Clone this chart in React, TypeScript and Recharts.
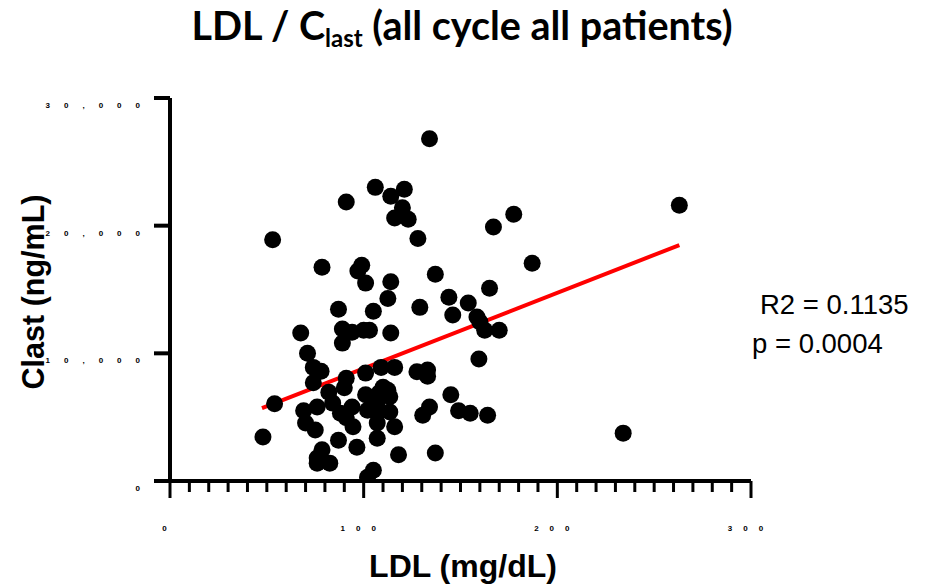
import React from 'react';
import { ScatterChart, Scatter, XAxis, YAxis, ReferenceLine } from 'recharts';

const ldl = [
  134, 106, 114, 121, 91, 120, 116, 123, 128, 53,
  78.5, 99, 97, 101, 114, 137, 112.5, 144, 129, 154,
  146, 165, 158.5, 160, 162.5, 170, 167, 177.5, 187, 263,
  234, 159.5, 114, 103, 105, 87, 67.5, 89, 94, 100,
  89, 71, 74, 78, 74, 91, 90, 101, 82, 54,
  48, 109, 116, 127.5, 133, 133, 145, 134, 130.5, 149,
  155, 164, 118, 137, 105, 102, 69, 76, 84, 70,
  75, 94, 94.5, 88, 91, 101, 102, 87, 96.5, 78.5,
  76, 82.5, 76, 110, 108, 113.5, 107, 107, 113.5, 116,
  107, 107, 112.5,
];
const clast = [
  26800, 23000, 22300, 22850, 21850, 21400, 20600, 20500, 19000, 18900,
  16750, 16900, 16450, 15500, 15600, 16200, 14300, 14400, 13600, 13950,
  13000, 15100, 12850, 12450, 11800, 11800, 19900, 20900, 17050, 21600,
  3750, 9550, 11600, 11800, 13300, 13450, 11600, 11900, 11650, 11800,
  10800, 10000, 8900, 8600, 7700, 8050, 7300, 8450, 6950, 6050,
  3450, 8900, 8900, 8550, 8700, 8200, 6750, 5800, 5150, 5500,
  5300, 5150, 2050, 2200, 850, 300, 5500, 5800, 6100, 4550,
  4000, 5800, 4250, 5300, 4950, 6750, 5550, 3200, 2650, 2450,
  1800, 1400, 1400, 7350, 6900, 6600, 6100, 5300, 5400, 4250,
  4550, 3350, 7100,
];
const fitX = [47.5, 263];
const fitY = [5700, 18480];
const xTicks = [
  0, 10, 20, 30, 40, 50, 60, 70, 80, 90,
  100, 110, 120, 130, 140, 150, 160, 170, 180, 190,
  200, 210, 220, 230, 240, 250, 260, 270, 280, 290, 300,
];
const xMajorTicks = [0, 100, 200, 300];
const yTicks = [0, 10000, 20000, 30000];

const points = ldl.map((x, i) => ({ x, y: clast[i] }));

const XTick = (props: any) => {
  const { x, y, payload } = props;
  const major = xMajorTicks.includes(payload.value);
  return (
    <g>
      <line x1={x} x2={x} y1={y} y2={y + (major ? 17 : 11)} stroke="#000" strokeWidth={3} />
      {major && (
        <text x={x} y={y + 50} textAnchor="middle" fontSize={8} fontWeight="bold"
          fontFamily="Liberation Sans, Arial, sans-serif" letterSpacing={11} fill="#000">
          {String(payload.value)}
        </text>
      )}
    </g>
  );
};

const YTick = (props: any) => {
  const { x, y, payload } = props;
  return (
    <g>
      <line x1={x} x2={x - 16} y1={y} y2={y} stroke="#000" strokeWidth={4} />
      <text x={x - 16} y={y + 10} textAnchor="end" fontSize={8} fontWeight="bold"
        fontFamily="Liberation Sans, Arial, sans-serif" letterSpacing={14} fill="#000">
        {Number(payload.value).toLocaleString('en-US')}
      </text>
    </g>
  );
};

const Dot = (props: any) => {
  const { cx, cy } = props;
  return <circle cx={cx} cy={cy} r={8.5} fill="#000" />;
};

export default function App() {
  return (
    <div style={{ position: 'absolute', left: 0, top: 0, width: 925, height: 585, background: '#fff' }}>
      <ScatterChart width={925} height={585} margin={{ top: 98, right: 174, bottom: 74, left: 110 }}>
        <XAxis type="number" dataKey="x" domain={[0, 300]} ticks={xTicks} interval={0}
          axisLine={{ stroke: '#000', strokeWidth: 4 }} tickLine={false} tickSize={0} tickMargin={0}
          tick={<XTick />} height={30} allowDataOverflow />
        <YAxis type="number" dataKey="y" domain={[0, 30000]} ticks={yTicks} interval={0}
          axisLine={{ stroke: '#000', strokeWidth: 4 }} tickLine={false} tickSize={0} tickMargin={0}
          tick={<YTick />} width={60} allowDataOverflow />
        <Scatter data={points} shape={<Dot />} isAnimationActive={false} />
        <ReferenceLine segment={[{ x: fitX[0], y: fitY[0] }, { x: fitX[1], y: fitY[1] }]}
          stroke="#ff0000" strokeWidth={4} ifOverflow="visible" />
      </ScatterChart>
      <svg width={925} height={585} style={{ position: 'absolute', left: 0, top: 0, pointerEvents: 'none' }}>
        <text x={462} y={40} textAnchor="middle" fontFamily="Lato, sans-serif" fontWeight="bold" fontSize={39.5} fill="#000">
          LDL / C<tspan fontSize={24} dy={7}>last</tspan><tspan dy={-7}> (all cycle all patients)</tspan>
        </text>
        <text x={463} y={577} textAnchor="middle" fontFamily="Liberation Sans, Arial, sans-serif" fontWeight="bold" fontSize={32} fill="#000">
          LDL (mg/dL)
        </text>
        <text transform="translate(44, 292) rotate(-90)" textAnchor="middle" fontFamily="Liberation Sans, Arial, sans-serif" fontWeight="bold" fontSize={30.5} fill="#000">
          Clast (ng/mL)
        </text>
        <text x={760} y={314} fontFamily="Liberation Sans, Arial, sans-serif" fontSize={27.5} fill="#000">R2 = 0.1135</text>
        <text x={752} y={353} fontFamily="Liberation Sans, Arial, sans-serif" fontSize={27.5} fill="#000">p = 0.0004</text>
      </svg>
    </div>
  );
}
